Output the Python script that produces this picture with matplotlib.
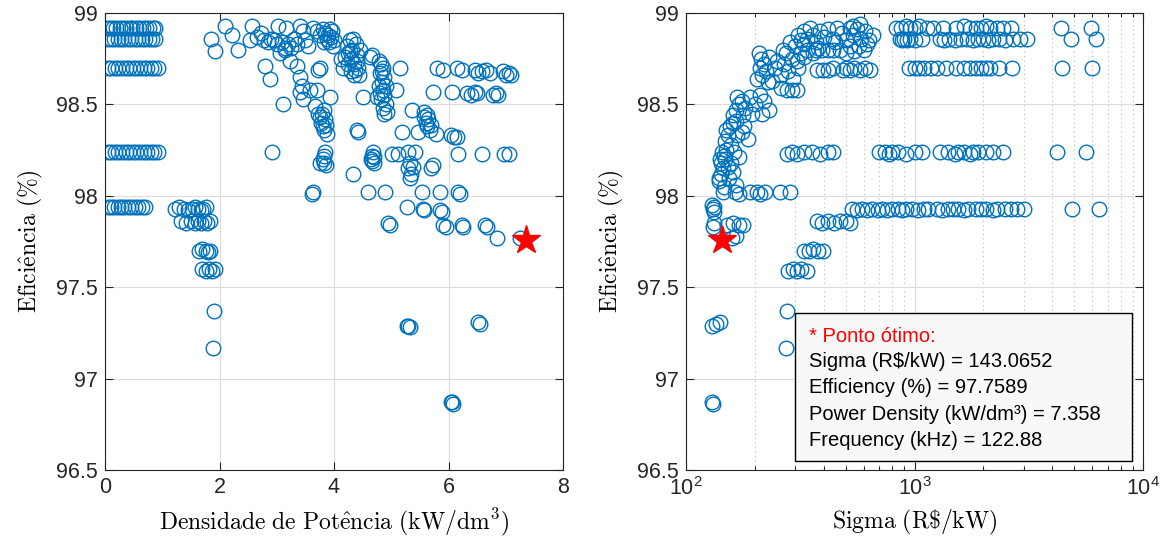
import matplotlib
matplotlib.use("Agg")
import matplotlib.pyplot as plt
from matplotlib.patches import Rectangle
from matplotlib.ticker import FuncFormatter, LogLocator, NullFormatter

# ---------------- data: power density (kW/dm^3) vs efficiency (%) ----------------
densidade = [
    # low-density designs
    0.04, 0.09, 0.14, 0.20, 0.26, 0.31, 0.37, 0.43, 0.48, 0.54, 0.60, 0.66, 0.71, 0.77, 0.83, 0.88,
    0.04, 0.10, 0.16, 0.22, 0.28, 0.34, 0.40, 0.46, 0.52, 0.58, 0.64, 0.70, 0.76, 0.82, 0.88,
    0.05, 0.10, 0.17, 0.23, 0.30, 0.36, 0.42, 0.49, 0.55, 0.61, 0.68, 0.74, 0.80, 0.86, 0.92,
    0.05, 0.10, 0.17, 0.23, 0.30, 0.36, 0.42, 0.49, 0.55, 0.61, 0.68, 0.74, 0.80, 0.86, 0.92,
    0.05, 0.10, 0.16, 0.22, 0.28, 0.34, 0.40, 0.46, 0.52, 0.58, 0.64, 0.70,
    1.22, 1.30, 1.38, 1.45, 1.52, 1.58, 1.63, 1.68, 1.72, 1.77,
    1.33, 1.42, 1.50, 1.57, 1.63, 1.68, 1.73, 1.78, 1.83,
    1.64, 1.70, 1.76, 1.80, 1.84,
    1.70, 1.76, 1.82, 1.87, 1.92,
    1.90, 1.88,
    # upper band
    1.86, 1.93, 2.10, 2.21, 2.33, 2.56, 2.53, 2.65, 2.72, 2.78, 2.85, 2.90, 2.95, 3.00,
    3.02, 3.17, 3.10, 3.15, 3.20, 3.25, 3.30, 3.35, 3.41, 3.46, 3.50, 3.55, 3.64,
    2.79, 2.88, 3.06, 3.14, 3.23, 3.35, 3.41, 3.41, 3.44, 3.46, 3.11, 3.58, 3.70, 3.72,
    3.76, 3.93, 3.67, 3.72, 3.75, 3.78, 3.80, 3.82, 3.85, 3.88, 3.79, 3.83, 3.86,
    3.70, 3.75, 3.80, 3.85, 3.88, 3.90, 3.92, 3.95, 3.97, 4.00, 3.82, 3.93, 3.98,
    4.22, 4.25, 4.28, 4.30, 4.32, 4.35, 4.38, 4.40, 4.42, 4.45, 4.30, 4.35, 4.25, 4.40,
    4.33, 4.28, 4.37, 4.43, 4.20, 4.12, 4.15, 4.66, 4.63,
    4.78, 4.82, 4.85, 4.80, 4.87, 4.83, 4.78, 4.85, 4.88, 4.82, 4.90, 4.86, 4.92, 4.88,
    4.80, 4.84, 4.90, 5.15, 5.09, 4.51, 4.75, 5.36,
    5.58, 5.62, 5.65, 5.60, 5.63, 5.67, 5.57, 5.70,
    5.79, 6.05, 6.10, 6.15, 4.40, 4.42, 5.18, 5.47,
    5.80, 5.90, 6.15, 6.23, 6.46, 6.52, 6.58, 6.66, 6.72, 6.95, 7.00, 7.05, 7.10,
    5.73, 6.06, 6.32, 6.40, 6.46, 6.50, 6.78, 6.83, 6.86,
    # middle band
    2.91, 3.84, 3.82, 3.80, 3.83, 3.76, 3.86,
    4.68, 4.66, 4.70, 4.67, 4.69, 4.65,
    5.02, 5.12, 5.30, 5.41, 5.33, 5.30, 5.35, 5.32, 5.38, 5.73, 5.70,
    6.17, 6.58, 6.97, 7.05, 4.34,
    # lower band
    3.64, 3.62, 4.60, 4.89, 5.53, 5.85, 6.20, 6.17,
    5.27, 5.55, 5.58, 5.85, 5.88,
    4.95, 4.98, 5.91, 5.95, 6.26, 6.23, 6.64, 6.68, 6.84, 7.25,
    5.30, 5.32, 5.28, 6.52, 6.55, 6.06, 6.08, 6.04,
]
eficiencia_d = [
    *[98.92] * 16,
    *[98.86] * 15,
    *[98.70] * 15,
    *[98.24] * 15,
    *[97.94] * 12,
    97.93, 97.94, 97.93, 97.92, 97.93, 97.94, 97.93, 97.92, 97.93, 97.94,
    97.86, 97.85, 97.86, 97.85, 97.86, 97.85, 97.86, 97.85, 97.86,
    97.70, 97.71, 97.70, 97.69, 97.70,
    97.60, 97.59, 97.60, 97.59, 97.60,
    97.37, 97.17,
    98.86, 98.79, 98.93, 98.88, 98.80, 98.93, 98.85, 98.87, 98.89, 98.85, 98.84, 98.86, 98.85, 98.83,
    98.93, 98.92, 98.84, 98.80, 98.83, 98.81, 98.86, 98.83, 98.93, 98.90, 98.85, 98.82, 98.92,
    98.71, 98.64, 98.78, 98.81, 98.74, 98.71, 98.65, 98.57, 98.60, 98.53, 98.50, 98.58, 98.58, 98.69,
    98.70, 98.54, 98.49, 98.45, 98.43, 98.40, 98.38, 98.36, 98.42, 98.34, 98.45, 98.47, 98.39,
    98.90, 98.88, 98.91, 98.89, 98.86, 98.88, 98.84, 98.87, 98.90, 98.85, 98.84, 98.91, 98.82,
    98.82, 98.78, 98.85, 98.75, 98.80, 98.72, 98.83, 98.77, 98.70, 98.80, 98.68, 98.66, 98.72, 98.74,
    98.86, 98.79, 98.69, 98.66, 98.76, 98.75, 98.70, 98.77, 98.76,
    98.74, 98.72, 98.70, 98.67, 98.65, 98.62, 98.60, 98.58, 98.55, 98.53, 98.50, 98.48, 98.46, 98.45,
    98.56, 98.68, 98.60, 98.70, 98.58, 98.54, 98.54, 98.47,
    98.46, 98.44, 98.42, 98.40, 98.38, 98.36, 98.43, 98.39,
    98.34, 98.33, 98.32, 98.32, 98.36, 98.35, 98.35, 98.35,
    98.70, 98.69, 98.70, 98.69, 98.69, 98.67, 98.68, 98.69, 98.67, 98.68, 98.66, 98.67, 98.66,
    98.57, 98.57, 98.56, 98.55, 98.57, 98.56, 98.55, 98.56, 98.55,
    98.24, 98.24, 98.22, 98.20, 98.18, 98.18, 98.17,
    98.24, 98.22, 98.21, 98.19, 98.18, 98.20,
    98.23, 98.23, 98.24, 98.24, 98.18, 98.15, 98.12, 98.10, 98.16, 98.17, 98.15,
    98.23, 98.23, 98.23, 98.23, 98.12,
    98.02, 98.01, 98.02, 98.02, 98.02, 98.02, 98.01, 98.02,
    97.94, 97.93, 97.92, 97.92, 97.91,
    97.85, 97.84, 97.84, 97.83, 97.83, 97.84, 97.84, 97.83, 97.77, 97.77,
    97.29, 97.28, 97.29, 97.31, 97.30, 96.87, 96.86, 96.87,
]

# ---------------- data: sigma (R$/kW) vs efficiency (%) ----------------
sigma = [
    130, 131,
    130, 135, 141,
    131, 132, 130, 133,
    131, 132, 151, 160, 170, 177,
    159, 165,
    145, 164, 190, 204, 221, 257, 284, 170, 210,
    140, 142, 145, 143, 148, 146, 150, 155, 160, 165, 158, 152, 170, 163, 147, 139, 141, 144,
    148, 152, 150, 156, 160, 168, 175, 180, 186, 158, 165,
    160, 165, 170, 175, 182, 190, 200, 210, 220, 230, 178, 195, 168, 215,
    205, 210, 212, 215, 220, 225, 230, 238, 245, 250, 208, 228,
    260, 268, 275, 280, 290, 300, 310, 318, 285, 265, 295, 305,
    278, 292, 305, 260,
    310, 320, 330, 340, 350, 360, 372, 385, 400, 420, 440, 460, 480, 500, 520, 540, 560, 585,
    610, 630, 655, 340, 360, 380, 470, 500, 520, 545, 570, 600, 620, 330, 450, 575, 540, 330,
    372, 395, 418, 440,
    375, 398, 420, 440,
    485, 500, 520, 545, 575, 610, 640,
    278, 292, 305, 330, 355, 385, 420, 440,
    700, 740, 770, 800, 850, 920, 1000, 1080,
    1290, 1400, 1500, 1550, 1650, 1750, 1800, 1900, 2050, 2200, 2430,
    4220, 5650,
    535, 560, 590, 620, 650, 690, 720, 760, 800, 850, 880, 920, 980, 1040, 1100, 1150, 1250,
    1320, 1400, 1480, 1550, 1650, 1720, 1850, 1950, 2050, 2200, 2300, 2500, 2650, 2800, 3000,
    4890, 6410,
    373, 395, 420, 445, 470, 500, 520,
    330, 345, 360, 380, 397,
    280, 293, 305, 320, 337,
    276, 273,
    830, 870, 920, 960, 1000, 1050, 1130, 1200, 1330, 1520, 1650, 1750, 1850, 1950, 2050,
    2150, 2300, 2450, 2640, 4380, 5900,
    860, 880, 900, 930, 960, 1000, 1080, 1290, 1350, 1420, 1500, 1600, 1700, 1800, 1900,
    2000, 2100, 2200, 2350, 2500, 2700, 2900, 3110, 4850, 6230,
    950, 1000, 1050, 1100, 1180, 1250, 1380, 1520, 1650, 1750, 1850, 1950, 2050, 2150, 2350,
    2680, 4440, 5990,
]
eficiencia_s = [
    96.87, 96.86,
    97.29, 97.30, 97.31,
    97.93, 97.91, 97.95, 97.94,
    97.83, 97.85, 97.84, 97.85, 97.84, 97.84,
    97.77, 97.78,
    98.02, 98.02, 98.02, 98.02, 98.02, 98.02, 98.02, 98.01, 98.01,
    98.08, 98.12, 98.15, 98.18, 98.20, 98.22, 98.25, 98.10, 98.13, 98.06, 98.18, 98.16, 98.21,
    98.24, 98.05, 98.10, 98.20, 98.24,
    98.30, 98.33, 98.36, 98.38, 98.40, 98.33, 98.35, 98.38, 98.31, 98.28, 98.41,
    98.44, 98.47, 98.50, 98.52, 98.48, 98.54, 98.50, 98.55, 98.52, 98.47, 98.44, 98.45, 98.54, 98.45,
    98.64, 98.70, 98.75, 98.66, 98.72, 98.68, 98.76, 98.63, 98.70, 98.74, 98.78, 98.62,
    98.66, 98.72, 98.78, 98.68, 98.75, 98.82, 98.70, 98.78, 98.84, 98.80, 98.64, 98.74,
    98.58, 98.58, 98.58, 98.59,
    98.88, 98.85, 98.90, 98.86, 98.92, 98.88, 98.84, 98.90, 98.87, 98.91, 98.86, 98.92, 98.89,
    98.85, 98.92, 98.88, 98.91, 98.86,
    98.90, 98.85, 98.88, 98.80, 98.78, 98.81, 98.80, 98.78, 98.82, 98.79, 98.82, 98.80, 98.83,
    98.76, 98.84, 98.94, 98.93, 98.83,
    98.80, 98.80, 98.80, 98.80,
    98.69, 98.69, 98.69, 98.70,
    98.69, 98.70, 98.69, 98.70, 98.69, 98.70, 98.69,
    98.23, 98.24, 98.23, 98.24, 98.24, 98.23, 98.24, 98.24,
    98.24, 98.24, 98.23, 98.24, 98.24, 98.23, 98.24, 98.24,
    98.24, 98.24, 98.23, 98.24, 98.24, 98.23, 98.24, 98.24, 98.24, 98.24, 98.24,
    98.24, 98.24,
    97.93, 97.92, 97.93, 97.92, 97.93, 97.92, 97.93, 97.92, 97.93, 97.93, 97.92, 97.93, 97.93,
    97.92, 97.93, 97.93, 97.93, 97.92, 97.93, 97.93, 97.93, 97.92, 97.93, 97.93, 97.93, 97.93,
    97.92, 97.93, 97.93, 97.93, 97.93, 97.93,
    97.93, 97.93,
    97.86, 97.85, 97.86, 97.85, 97.86, 97.86, 97.85,
    97.70, 97.70, 97.71, 97.70, 97.70,
    97.59, 97.60, 97.59, 97.60, 97.59,
    97.37, 97.17,
    98.92, 98.92, 98.93, 98.92, 98.92, 98.93, 98.92, 98.92, 98.92, 98.92, 98.93, 98.92, 98.92,
    98.92, 98.93, 98.92, 98.92, 98.92, 98.92, 98.92, 98.92,
    98.86, 98.85, 98.86, 98.85, 98.86, 98.85, 98.86, 98.86, 98.85, 98.86, 98.85, 98.86, 98.86,
    98.85, 98.86, 98.86, 98.85, 98.86, 98.86, 98.85, 98.86, 98.86, 98.86, 98.86, 98.86,
    98.70, 98.70, 98.70, 98.70, 98.70, 98.70, 98.70, 98.70, 98.70, 98.70, 98.70, 98.70, 98.70,
    98.70, 98.70, 98.70, 98.70, 98.70,
]

# optimum design point
otimo_sigma = 143.0652
otimo_eff = 97.7589
otimo_dens = 7.358
otimo_freq = 122.88

y_ticks = [96.5, 97, 97.5, 98, 98.5, 99]
x_ticks_dens = [0, 2, 4, 6, 8]

BLUE = "#0072BD"
AXCOL = "#262626"

plt.rcParams["font.family"] = ["Liberation Sans", "DejaVu Sans"]

fig = plt.figure(figsize=(11.72, 5.44), dpi=100)
ax1 = fig.add_axes([105 / 1172, 74 / 544, 458 / 1172, 457 / 544])
ax2 = fig.add_axes([686 / 1172, 74 / 544, 457 / 1172, 457 / 544])

mk = dict(linestyle="none", marker="o", mfc="none", mec=BLUE, ms=10.5, mew=1.0)
ax1.plot(densidade, eficiencia_d, **mk)
ax1.plot([otimo_dens], [otimo_eff], marker="*", color="red", ms=21, linestyle="none")

ax2.plot(sigma, eficiencia_s, **mk)
ax2.plot([otimo_sigma], [otimo_eff], marker="*", color="red", ms=21, linestyle="none")

fmt = FuncFormatter(lambda v, p: f"{v:g}")
for ax in (ax1, ax2):
    ax.set_ylim(96.5, 99)
    ax.set_yticks(y_ticks)
    ax.yaxis.set_major_formatter(fmt)
    ax.tick_params(which="both", direction="in", top=True, right=True, colors=AXCOL,
                   labelsize=15.5, width=0.8)
    ax.tick_params(which="major", length=5.5, pad=5)
    ax.tick_params(which="minor", length=3)
    ax.grid(True, which="major", color="#dcdcdc", linewidth=0.8)
    ax.set_axisbelow(True)
    for s in ax.spines.values():
        s.set_color(AXCOL)
        s.set_linewidth(0.8)
    ax.set_ylabel(r"$\mathrm{Efici\hat{e}ncia\ (\%)}$", fontsize=17, math_fontfamily="cm",
                  labelpad=8)

ax1.set_xlim(0, 8)
ax1.set_xticks(x_ticks_dens)
ax1.xaxis.set_major_formatter(fmt)
ax1.set_xlabel(r"$\mathrm{Densidade\ de\ Pot\hat{e}ncia\ (kW/dm^3)}$", fontsize=17,
               math_fontfamily="cm", labelpad=6)

ax2.set_xscale("log")
ax2.set_xlim(100, 10000)
ax2.xaxis.set_major_locator(LogLocator(base=10, numticks=10))
ax2.xaxis.set_minor_locator(LogLocator(base=10, subs=range(2, 10), numticks=20))
ax2.xaxis.set_minor_formatter(NullFormatter())
ax2.grid(True, which="minor", axis="x", color="#b8b8b8", linestyle=(0, (1, 3)), linewidth=0.8)
ax2.set_xlabel(r"$\mathrm{Sigma\ (R\$/kW)}$", fontsize=17, math_fontfamily="cm", labelpad=6)

# annotation box with the optimum design
ax2.add_patch(Rectangle((0.2385, 0.0197), 0.7375, 0.3238, transform=ax2.transAxes,
                        facecolor="#f8f8f8", edgecolor="black", linewidth=1.0, zorder=5))
linhas = [
    ("* Ponto ótimo:", "red", 0.2932),
    (f"Sigma (R$/kW) = {otimo_sigma:.4f}", "black", 0.237),
    (f"Efficiency (%) = {otimo_eff:.4f}", "black", 0.180),
    (f"Power Density (kW/dm³) = {otimo_dens:g}", "black", 0.1225),
    (f"Frequency (kHz) = {otimo_freq:g}", "black", 0.064),
]
for txt, cor, yy in linhas:
    ax2.text(0.269, yy, txt, color=cor, fontsize=14.5, transform=ax2.transAxes,
             va="center", ha="left", zorder=6)

fig.savefig("out.png", dpi=100)
